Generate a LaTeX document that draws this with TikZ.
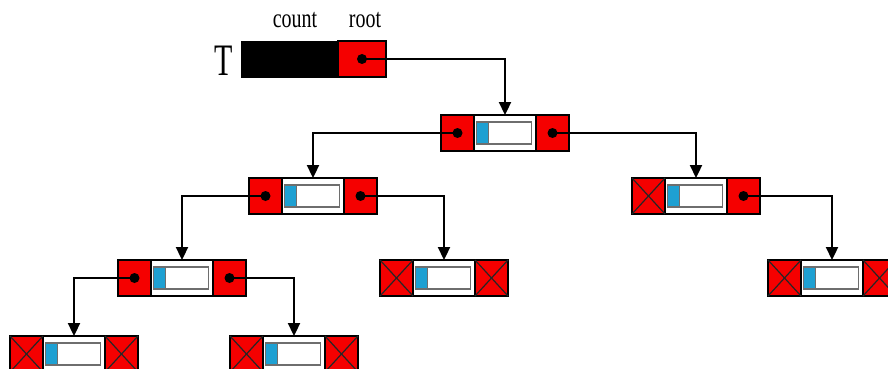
\documentclass[tikz,border=0pt]{standalone}
\usepackage{fontspec}
\setmainfont{Liberation Serif}
\usetikzlibrary{arrows.meta}
\definecolor{cellred}{RGB}{245,0,0}
\definecolor{cellblue}{RGB}{30,160,210}
\definecolor{innergray}{RGB}{110,110,110}
\tikzset{
  redcell/.style={draw=black,line width=1.2pt,fill=cellred,minimum width=33pt,minimum height=36pt,inner sep=0pt,outer sep=0pt},
  midcell/.style={draw=black,line width=1.2pt,fill=white,minimum width=62pt,minimum height=36pt,inner sep=0pt,outer sep=0pt},
  innerbox/.style={minimum width=55pt,minimum height=22pt,inner sep=0pt,outer sep=0pt},
  conn/.style={line width=2.3pt,-{Triangle[length=13pt,width=12pt]}},
  dot/.style={fill=black},
  crossline/.style={line width=1.2pt,black!85},
}
\newcommand\treenode[5]{% name, cx, cy, left crossed (1/0), right crossed (1/0)
  \node[redcell] (#1l) at ({#2-47.5},#3) {};
  \node[midcell] (#1m) at (#2,#3) {};
  \node[redcell] (#1r) at ({#2+47.5},#3) {};
  \node[innerbox] (#1i) at ({#2-1},#3) {};
  \fill[cellblue] (#1i.north west) rectangle ([xshift=12pt]#1i.south west);
  \draw[innergray,line width=1.6pt] (#1i.north west) rectangle (#1i.south east);
  \draw[innergray,line width=1.6pt] ([xshift=12pt]#1i.north west) -- ([xshift=12pt]#1i.south west);
  \ifnum#4=1
    \draw[crossline] (#1l.north west) -- (#1l.south east) (#1l.north east) -- (#1l.south west);
  \else
    \fill[dot] (#1l.center) circle (5pt);
  \fi
  \ifnum#5=1
    \draw[crossline] (#1r.north west) -- (#1r.south east) (#1r.north east) -- (#1r.south west);
  \else
    \fill[dot] (#1r.center) circle (5pt);
  \fi
}
\begin{document}
\begin{tikzpicture}[x=1pt,y=-1pt]
\useasboundingbox (0,0) rectangle (888,369);
\clip (0,0) rectangle (888,369);
\fill[white] (0,0) rectangle (888,369);
% header
\node[font=\fontsize{30}{30}\selectfont,inner sep=0pt] (tlabel) at (224,61) {\scalebox{1}[1.5]{T}};
\node[draw=black,fill=black,minimum width=97pt,minimum height=36pt,inner sep=0pt,outer sep=0pt] (tcount) at (289.5,59) {};
\node[redcell,minimum width=48pt] (troot) at (362,59) {};
\fill[dot] (troot.center) circle (5pt);
\node[font=\fontsize{20}{20}\selectfont,inner sep=0pt] (countlbl) at (295,20) {\scalebox{1}[1.35]{count}};
\node[font=\fontsize{20}{20}\selectfont,inner sep=0pt] (rootlbl) at (365,20) {\scalebox{1}[1.35]{root}};
% tree nodes
\treenode{a}{505}{133}{0}{0}
\treenode{b}{313}{196}{0}{0}
\treenode{c}{696}{196}{1}{0}
\treenode{d}{182}{278}{0}{0}
\treenode{e}{444}{278}{1}{1}
\treenode{f}{832}{278}{1}{1}
\treenode{g}{74}{354}{1}{1}
\treenode{h}{294}{354}{1}{1}
% connectors
\draw[conn] (troot.center) -| (am.north);
\draw[conn] (al.center) -| (bm.north);
\draw[conn] (ar.center) -| (cm.north);
\draw[conn] (bl.center) -| (dm.north);
\draw[conn] (br.center) -| (em.north);
\draw[conn] (cr.center) -| (fm.north);
\draw[conn] (dl.center) -| (gm.north);
\draw[conn] (dr.center) -| (hm.north);
\end{tikzpicture}
\end{document}
